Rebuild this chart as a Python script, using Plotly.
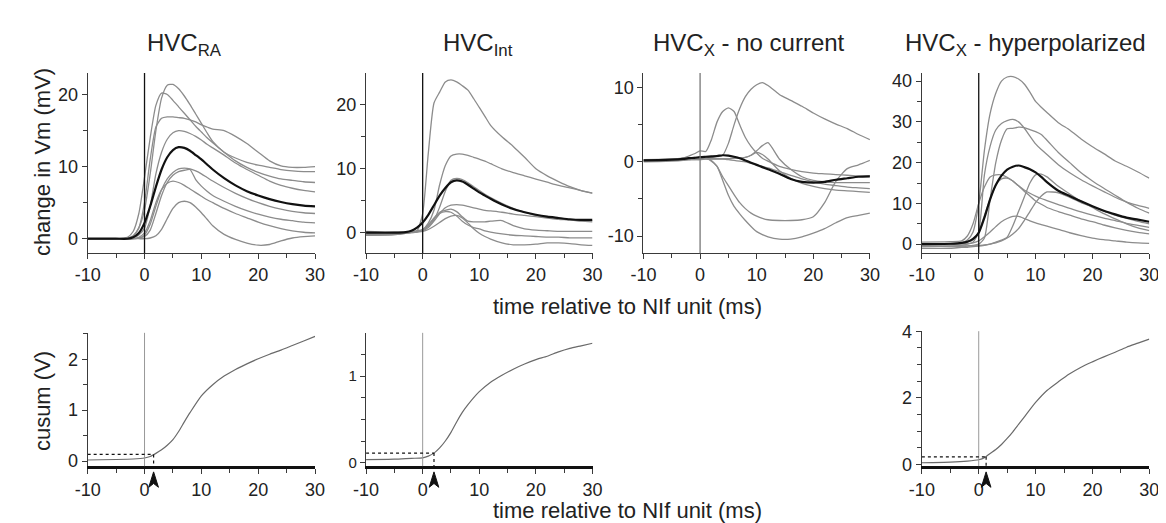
import plotly.graph_objects as go

# ---------------- data ----------------
t_grid = [-10, -5, -3, -2, -1, 0, 1, 2, 3, 4, 5, 6, 7, 8, 9, 10, 11, 12, 14, 16, 18, 20, 22, 24, 26, 28, 30]

# HVC_RA
ra_a = [0, 0, 0.1, 0.4, 1.5, 4, 9, 15, 19.5, 21.3, 21.4, 20.8, 19.8, 18.6, 17.3, 16.0, 14.7, 13.5, 12.0, 11.2, 10.6, 10.2, 9.9, 9.6, 9.4, 9.3, 9.3]
ra_b = [0, 0, 0.2, 1, 3.5, 8.5, 14, 18.5, 20.2, 20.0, 19.2, 18.3, 17.4, 16.5, 15.6, 14.8, 14.0, 13.3, 12.0, 10.8, 9.9, 9.2, 8.7, 8.3, 8.1, 7.9, 7.8]
ra_c = [0, 0, 0, 0.3, 1.5, 5, 11, 15.5, 16.7, 16.9, 16.9, 16.8, 16.7, 16.5, 16.2, 15.8, 15.5, 15.2, 15.0, 14.2, 13.2, 12.0, 10.8, 10.1, 9.9, 9.9, 10.0]
ra_d = [0, 0, 0, 0.1, 0.5, 1.5, 4.5, 9, 12, 13.8, 14.7, 15.0, 14.9, 14.6, 14.2, 13.7, 13.1, 12.6, 11.6, 10.5, 9.6, 8.8, 8.0, 7.4, 7.0, 6.7, 6.5]
ra_e = [0, 0, 0, 0, 0.1, 0.3, 1.2, 3.5, 6, 7.8, 8.8, 9.3, 9.5, 9.6, 8.2, 7.3, 6.6, 6.0, 5.2, 4.5, 3.9, 3.4, 3.0, 2.7, 2.5, 2.3, 2.2]
ra_f = [0, 0, 0, 0, 0.1, 0.5, 2, 4.5, 6.8, 8.3, 9.2, 9.7, 9.8, 9.7, 9.4, 9.0, 8.5, 8.0, 7.1, 6.3, 5.6, 5.0, 4.5, 4.1, 3.8, 3.6, 3.5]
ra_g = [0, 0, 0, 0, 0.2, 0.8, 2.5, 5, 6.8, 7.7, 8.0, 7.8, 7.4, 6.9, 6.4, 5.9, 5.4, 5.0, 4.2, 3.5, 2.9, 2.3, 1.8, 1.4, 1.1, 0.9, 0.8]
ra_h = [0, 0, 0, 0, 0, 0, 0.1, 0.4, 1.3, 2.8, 4.2, 5.0, 5.2, 5.0, 4.4, 3.6, 2.7, 1.8, 0.6, -0.1, -0.6, -0.9, -0.8, -0.3, 0.1, 0.3, 0.4]
ra_mean = [0, 0, 0, 0.2, 0.8, 2.2, 4.5, 7.2, 9.6, 11.3, 12.3, 12.7, 12.6, 12.2, 11.6, 11.0, 10.3, 9.6, 8.4, 7.4, 6.6, 6.0, 5.5, 5.1, 4.8, 4.6, 4.5]

# HVC_Int
int_a = [0.2, 0.1, 0.1, 0.1, 0.3, 3, 12.5, 20.3, 22.0, 23.6, 23.9, 23.6, 23.0, 22.3, 21.0, 19.6, 18.2, 16.8, 15.0, 13.5, 11.8, 10.0, 8.9, 8.0, 7.2, 6.6, 6.2]
int_b = [0, 0, 0, 0.1, 0.2, 0.5, 1.5, 3.5, 7.5, 10.5, 12.0, 12.3, 12.3, 12.1, 11.8, 11.5, 11.2, 10.8, 10.0, 9.4, 8.9, 8.4, 7.9, 7.4, 7.0, 6.6, 6.2]
int_d = [-0.2, -0.2, 0, 0.1, 0.3, 0.5, 1.0, 2.0, 4.0, 6.5, 8.2, 8.5, 8.3, 7.8, 7.2, 6.6, 6.0, 5.5, 4.6, 3.8, 3.2, 2.7, 2.4, 2.2, 2.0, 1.9, 1.9]
int_e = [-0.3, -0.2, 0, 0.1, 0.2, 0.3, 0.8, 1.8, 3.0, 3.9, 4.3, 4.4, 4.3, 4.1, 3.9, 3.7, 3.5, 3.4, 3.2, 2.9, 2.7, 2.5, 2.3, 2.1, 2.0, 1.8, 1.7]
int_f = [-0.4, -0.3, -0.1, 0, 0.1, 0.3, 1.2, 2.3, 3.2, 3.5, 3.7, 3.3, 2.5, 1.8, 1.7, 1.7, 1.7, 1.8, 1.9, 1.1, 0.6, 0.4, 0.3, 0.2, 0.2, 0.2, 0.2]
int_g = [0, 0, 0, 0.1, 0.2, 0.4, 1.2, 2.2, 3.0, 3.3, 3.2, 2.6, 1.8, 1.2, 0.8, 0.6, 0.3, 0.1, -0.2, -0.4, -0.5, -0.6, -0.7, -0.7, -0.8, -0.8, -0.8]
int_h = [-0.4, -0.3, -0.1, 0, 0.1, 0.2, 0.5, 1.0, 1.6, 2.2, 2.6, 2.7, 2.3, 1.5, 0.6, -0.1, -0.6, -1.0, -1.6, -1.9, -1.9, -1.8, -1.6, -1.6, -1.7, -1.9, -2.0]
int_mean = [0, 0, 0.1, 0.3, 0.8, 1.6, 2.8, 4.3, 5.8, 7.0, 7.9, 8.2, 8.0, 7.5, 6.9, 6.3, 5.8, 5.3, 4.4, 3.7, 3.2, 2.8, 2.5, 2.3, 2.1, 2.0, 2.0]

# HVC_X - no current
xn_a = [0.2, 0.3, 0.4, 0.5, 0.5, 0.6, 0.6, 0.6, 0.7, 0.9, 2.5, 5.0, 7.2, 8.8, 9.8, 10.4, 10.7, 10.3, 9.1, 8.3, 7.5, 6.6, 5.8, 5.1, 4.5, 3.7, 3.0]
xn_b = [0.1, 0.3, 0.5, 0.8, 1.1, 1.5, 1.4, 3.0, 5.4, 6.8, 7.3, 6.8, 5.0, 3.3, 2.1, 1.2, 0.5, 0.1, -0.6, -1.0, -1.3, -1.5, -1.6, -1.7, -1.8, -1.9, -1.9]
xn_c = [0.2, 0.2, 0.3, 0.3, 0.3, 0.3, 0.4, 0.4, 0.4, 0.4, 0.4, 0.5, 0.5, 0.6, 0.9, 1.5, 2.2, 2.6, 0.4, -1.0, -2.0, -2.5, -2.7, -2.8, -2.8, -2.8, -2.8]
xn_d = [0.3, 0.3, 0.4, 0.5, 0.5, 0.6, 0.5, 0.2, -0.6, -2.0, -3.2, -4.4, -5.5, -6.3, -6.9, -7.3, -7.6, -7.8, -7.9, -7.9, -7.8, -7.4, -5.5, -2.6, -0.9, -0.4, 0.2]
xn_e = [0.3, 0.4, 0.5, 0.5, 0.6, 0.6, 0.5, 0.1, -0.6, -2.5, -4.5, -6.0, -7.0, -7.9, -8.7, -9.4, -9.8, -10.1, -10.4, -10.4, -10.1, -9.6, -9.0, -8.2, -7.5, -7.2, -6.9]
xn_f = [0.1, 0.2, 0.3, 0.3, 0.4, 0.4, 0.4, 0.4, 0.4, 0.4, 0.4, 0.5, 0.5, 0.6, 0.9, 1.3, 1.0, 0.4, -1.2, -2.2, -2.9, -3.3, -3.6, -3.8, -3.9, -4.0, -4.1]
xn_g = [0.0, 0.1, 0.2, 0.3, 0.3, 0.4, 0.4, 0.4, 0.4, 0.4, 0.3, 0.2, 0.1, 0, -0.2, -0.4, -0.6, -0.8, -1.3, -1.8, -2.3, -2.7, -3.0, -3.2, -3.4, -3.5, -3.6]
xn_mean = [0.2, 0.3, 0.4, 0.5, 0.55, 0.65, 0.7, 0.75, 0.8, 0.9, 0.85, 0.7, 0.5, 0.2, -0.1, -0.4, -0.7, -1.0, -1.6, -2.3, -2.7, -2.8, -2.7, -2.4, -2.2, -2.0, -1.95]

# HVC_X - hyperpolarized
xh_a = [0, 0, 0.3, 1, 3, 10, 23, 32, 37, 40, 41, 41.1, 40.5, 39.3, 37.3, 35.0, 33.6, 32.3, 29.8, 28.0, 25.8, 23.9, 22.2, 20.4, 19.1, 17.7, 16.2]
xh_b = [-0.5, -0.5, -0.3, 0, 0.5, 3, 17, 24, 28, 29.6, 30.3, 30.6, 30.0, 28.5, 26.5, 24.6, 23.2, 22.0, 19.5, 17.5, 15.8, 14.3, 12.9, 11.5, 10.3, 9.5, 8.8]
xh_c = [-0.5, -0.5, -0.5, -0.4, -0.3, 0, 1.5, 11, 20, 25.5, 28.3, 28.4, 28.7, 28.6, 28.1, 27.6, 26.9, 25.5, 22.5, 20.0, 17.5, 15.5, 13.7, 12.0, 10.3, 8.8, 7.6]
xh_d = [0.5, 0.6, 0.8, 2, 5, 10, 14, 16.5, 17, 17, 16.4, 15.5, 14.3, 13.0, 11.8, 10.6, 9.8, 9.0, 8.0, 7.1, 6.2, 5.5, 4.7, 4.0, 3.4, 2.9, 2.5]
xh_e = [0, 0, 0.2, 0.5, 1, 3, 7, 11, 14.5, 16.0, 16.2, 15.5, 14.3, 13.3, 12.5, 11.8, 11.2, 10.7, 9.7, 8.8, 7.9, 7.1, 6.4, 5.8, 5.1, 4.6, 4.1]
xh_f = [-1, -1, -0.8, -0.8, -0.6, -0.5, -0.3, 0, 0.5, 1.0, 1.7, 4.5, 8, 11.5, 15, 17, 17.2, 16.5, 14.2, 12.3, 10.5, 9.0, 7.5, 6.2, 5.0, 4.0, 3.3]
xh_g = [-0.5, -0.5, -0.5, -0.5, -0.4, -0.3, -0.2, 0, 0.3, 0.8, 1.5, 2.5, 3.8, 5.8, 8.0, 10.2, 11.8, 12.8, 12.6, 11.5, 10.2, 9.2, 8.1, 7.1, 6.3, 5.6, 5.0]
xh_h = [0, 0, 0, 0.1, 0.3, 0.8, 1.8, 3, 4.3, 5.5, 6.3, 6.8, 6.8, 6.3, 5.7, 5.2, 4.8, 4.4, 3.6, 2.8, 2.1, 1.5, 1.1, 0.8, 0.5, 0.3, 0.2]
xh_mean = [0, 0.1, 0.3, 0.6, 1.3, 2.8, 6.5, 11, 14.5, 16.8, 18.3, 19.0, 19.3, 18.9, 18.4, 17.6, 16.5, 15.2, 13.1, 11.8, 10.5, 9.3, 8.2, 7.3, 6.5, 6.0, 5.5]

# cusum curves
cs_t = [-10, -5, -2, 0, 1, 2, 3, 4, 5, 6, 7, 8, 10, 12, 14, 16, 18, 20, 22, 24, 26, 28, 30]
cs_ra = [0.02, 0.03, 0.04, 0.06, 0.09, 0.15, 0.22, 0.31, 0.42, 0.58, 0.77, 0.95, 1.28, 1.50, 1.67, 1.80, 1.91, 2.01, 2.10, 2.18, 2.27, 2.36, 2.45]
cs_int = [0.035, 0.04, 0.05, 0.055, 0.075, 0.11, 0.17, 0.25, 0.35, 0.47, 0.58, 0.67, 0.82, 0.93, 1.01, 1.08, 1.14, 1.19, 1.23, 1.28, 1.32, 1.35, 1.38]
cs_xh = [0.05, 0.07, 0.10, 0.14, 0.20, 0.33, 0.45, 0.60, 0.78, 0.98, 1.20, 1.42, 1.86, 2.22, 2.48, 2.72, 2.92, 3.08, 3.23, 3.37, 3.52, 3.64, 3.76]

# onset markers (time of arrow, threshold level)
onset_t = [1.6, 2.0, 1.3]
onset_v = [0.13, 0.11, 0.23]

titles = ["HVC<sub>RA</sub>", "HVC<sub>Int</sub>", "HVC<sub>X</sub> - no current", "HVC<sub>X</sub> - hyperpolarized"]
x_ticks = [-10, 0, 10, 20, 30]
x_minor = [-5, 5, 15, 25]
top_yticks = [[0, 10, 20], [0, 10, 20], [-10, 0, 10], [0, 10, 20, 30, 40]]
top_yminor = [[-5, 5, 15], [5, 15], [-5, 5], [5, 15, 25, 35]]
bot_yticks = [[0, 1, 2], [0, 1], [0, 2, 4]]
bot_yminor = [[0.5, 1.5, 2.5], [0.25, 0.5, 0.75, 1.25], [0.5, 1, 1.5, 2.5, 3, 3.5]]

# ---------------- figure ----------------
W, H = 1166, 523
FONT = "Liberation Sans, Arial, sans-serif"
GRAY = "#8c8c8c"
AX = "#3a3a3a"

fig = go.Figure()


def px_x(a, b):
    return [a / W, b / W]


def px_y(top, bottom):
    return [1 - bottom / H, 1 - top / H]


def lbl(v):
    return f"-{abs(v):g}" if v < 0 else f"{v:g}"


top_x = [(68, 300), (352, 583), (635, 866), (919, 1151)]
top_y = (57, 244)
top_ranges = [(-2, 23), (-3.2, 25), (-12.3, 12), (-2.2, 42)]

gray_sets = [
    [ra_a, ra_b, ra_c, ra_d, ra_e, ra_f, ra_g, ra_h],
    [int_a, int_b, int_d, int_e, int_f, int_g, int_h],
    [xn_a, xn_b, xn_c, xn_d, xn_e, xn_f, xn_g],
    [xh_a, xh_b, xh_c, xh_d, xh_e, xh_f, xh_g, xh_h],
]
means = [ra_mean, int_mean, xn_mean, xh_mean]


def axis_common(vals, minor_vals, size=18):
    return dict(
        showline=True, linecolor=AX, linewidth=1.3, showgrid=False, zeroline=False,
        ticks="outside", ticklen=5, tickwidth=1.2, tickcolor=AX,
        tickmode="array", tickvals=vals, ticktext=[lbl(v) for v in vals],
        tickfont=dict(family=FONT, size=size, color="#222"),
        minor=dict(ticks="outside", ticklen=4, tickwidth=1.1, tickcolor=AX, showgrid=False,
                   tickmode="array", tickvals=minor_vals),
    )


layout = dict(
    width=W, height=H, margin=dict(l=0, r=0, t=0, b=0),
    paper_bgcolor="white", plot_bgcolor="white", showlegend=False,
    font=dict(family=FONT, color="#222"),
)

shapes = []
annotations = []

for i in range(4):
    xa = f"xaxis{i+1}" if i else "xaxis"
    ya = f"yaxis{i+1}" if i else "yaxis"
    xr = f"x{i+1}" if i else "x"
    yr = f"y{i+1}" if i else "y"
    xd = axis_common(x_ticks, x_minor)
    xd.update(domain=px_x(*top_x[i]), range=[-10, 30], anchor=yr)
    yd = axis_common(top_yticks[i], top_yminor[i])
    yd.update(domain=px_y(*top_y), range=list(top_ranges[i]), anchor=xr)
    layout[xa] = xd
    layout[ya] = yd
    for tr in gray_sets[i]:
        fig.add_trace(go.Scatter(x=t_grid, y=tr, mode="lines", xaxis=xr, yaxis=yr,
                                 line=dict(color=GRAY, width=1.3, shape="spline", smoothing=0.6)))
    fig.add_trace(go.Scatter(x=t_grid, y=means[i], mode="lines", xaxis=xr, yaxis=yr,
                             line=dict(color="#111", width=2.2, shape="spline", smoothing=0.6)))
    shapes.append(dict(type="line", xref=xr, yref=f"{yr} domain", x0=0, x1=0, y0=0, y1=1,
                       line=dict(color="#777" if i == 2 else "#111", width=1.3)))
    cx = {0: 167, 1: 466, 2: 743, 3: 1025}[i]
    annotations.append(dict(text=titles[i], xref="paper", yref="paper", x=cx / W, y=1 - 27 / H,
                            showarrow=False, font=dict(family=FONT, size=24, color="#222"),
                            xanchor="center", yanchor="middle"))

# bottom cusum panels
bot = [
    (0, cs_ra, (-0.1, 2.52), (326.7, 465), 18),
    (1, cs_int, (-0.04, 1.5), (326.7, 465), 15),
    (3, cs_xh, (-0.05, 4.0), (325, 465), 18),
]
for k, (col, cs, rng, ypix, fsz) in enumerate(bot):
    n = 5 + k
    xr, yr = f"x{n}", f"y{n}"
    xd = axis_common(x_ticks, x_minor)
    xd.update(domain=px_x(*top_x[col]), range=[-10, 30], anchor=yr, linewidth=3, linecolor="#111")
    yd = axis_common(bot_yticks[k], bot_yminor[k], size=fsz)
    yd.update(domain=px_y(*ypix), range=list(rng), anchor=xr)
    layout[f"xaxis{n}"] = xd
    layout[f"yaxis{n}"] = yd
    fig.add_trace(go.Scatter(x=cs_t, y=cs, mode="lines", xaxis=xr, yaxis=yr,
                             line=dict(color="#6a6a6a", width=1.2, shape="spline", smoothing=0.6)))
    shapes.append(dict(type="line", xref=xr, yref=f"{yr} domain", x0=0, x1=0, y0=0, y1=1,
                       line=dict(color="#999", width=1)))
    ot, ov = onset_t[k], onset_v[k]
    shapes.append(dict(type="line", xref=xr, yref=yr, x0=-10, x1=ot, y0=ov, y1=ov,
                       line=dict(color="#111", width=1.2, dash="dot")))
    shapes.append(dict(type="line", xref=xr, yref=yr, x0=ot, x1=ot, y0=ov, y1=rng[0],
                       line=dict(color="#111", width=1.2, dash="dot")))
    # arrowhead below the axis (x in data units, y in paper units)
    tip = 1 - 471 / H
    base = 1 - 487 / H
    notch = 1 - 483 / H
    hw = 0.85
    path = (f"M {ot} {tip} L {ot - hw} {base} L {ot} {notch} L {ot + hw} {base} Z")
    shapes.append(dict(type="path", xref=xr, yref="paper", path=path,
                       fillcolor="#111", line=dict(color="#111", width=1)))

# axis titles
annotations += [
    dict(text="change in Vm (mV)", xref="paper", yref="paper", x=22 / W, y=1 - 150 / H, textangle=-90,
         showarrow=False, font=dict(family=FONT, size=22, color="#222"), xanchor="center", yanchor="middle"),
    dict(text="cusum (V)", xref="paper", yref="paper", x=22 / W, y=1 - 398 / H, textangle=-90,
         showarrow=False, font=dict(family=FONT, size=22, color="#222"), xanchor="center", yanchor="middle"),
    dict(text="time relative to NIf unit (ms)", xref="paper", yref="paper", x=619 / W, y=1 - 299 / H,
         showarrow=False, font=dict(family=FONT, size=22, color="#222"), xanchor="center", yanchor="middle"),
    dict(text="time relative to NIf unit (ms)", xref="paper", yref="paper", x=619 / W, y=1 - 511 / H,
         showarrow=False, font=dict(family=FONT, size=22, color="#222"), xanchor="center", yanchor="middle"),
]

layout["shapes"] = shapes
layout["annotations"] = annotations
fig.update_layout(**layout)
fig.write_html("out.html")
